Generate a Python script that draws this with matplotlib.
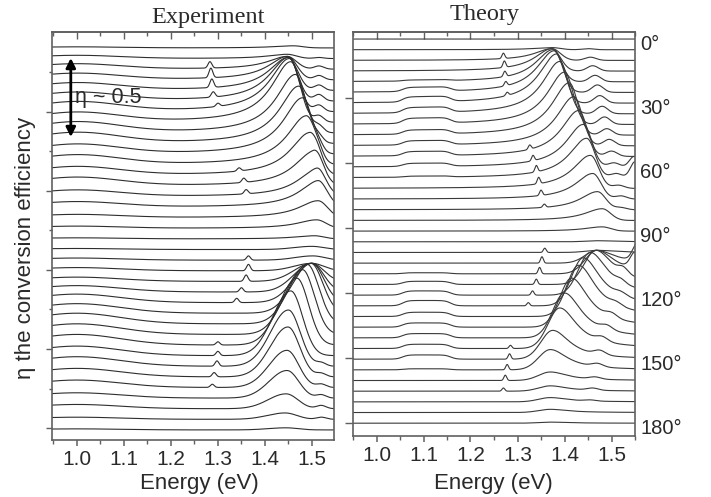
import numpy as np
import matplotlib
matplotlib.use('Agg')
import matplotlib.pyplot as plt
from matplotlib.ticker import MultipleLocator, FixedLocator, NullFormatter

# ---------------- data ----------------
angles = list(range(0, 181, 5))                      # 37 curves, 0..180 deg
label_angles = [0, 30, 60, 90, 120, 150, 180]
angle_labels = ['0°', '30°', '60°', '90°', '120°', '150°', '180°']
xticks = [1.0, 1.1, 1.2, 1.3, 1.4, 1.5]
group_split = 19                                     # index where the second lobe starts

# Experiment: main resonance energy (eV) and height (in curve-spacing units)
exp_peak_E = [1.460, 1.447, 1.447, 1.448, 1.449, 1.450, 1.452, 1.455, 1.465, 1.472,
              1.480, 1.488, 1.495, 1.503, 1.510, 1.513, 1.513, 1.510, 1.505,
              1.500, 1.502, 1.500, 1.500, 1.500, 1.500, 1.498, 1.490, 1.480, 1.468,
              1.455, 1.450, 1.449, 1.447, 1.447, 1.445, 1.443, 1.445]
exp_peak_h = [0.2, 0.4, 1.2, 2.2, 3.1, 4.1, 5.0, 5.7, 5.5, 5.4,
              5.3, 4.6, 4.0, 3.2, 2.5, 2.4, 1.6, 0.8, 0.3,
              0.3, 0.4, 0.7, 1.7, 2.7, 3.7, 4.7, 5.6, 6.1, 6.3,
              6.1, 5.3, 4.7, 3.5, 2.6, 1.4, 0.6, 0.2]
exp_bg = [0.1, 0.3, 0.5, 0.6, 0.7, 0.8, 0.9, 0.9, 1.0, 1.0,
          0.9, 0.9, 0.8, 0.8, 0.6, 0.5, 0.3, 0.2, 0.1,
          0.1, 0.2, 0.3, 0.4, 0.6, 0.8, 0.9, 1.0, 1.0, 1.0,
          0.9, 0.9, 0.8, 0.7, 0.5, 0.4, 0.2, 0.1]
exp_sh_E = [1.515] * 19 + [1.52] * 18
exp_sh_h = [0.0, 0.1, 0.3, 0.4, 0.5, 0.6, 0.6, 0.6, 0.6, 0.5,
            0.5, 0.4, 0.3, 0.3, 0.2, 0.1, 0.0, 0.0, 0.0,
            0.0, 0.0, 0.0, 0.0, 0.0, 0.0, 0.0, 0.0, 0.0, 0.0,
            0.0, 0.3, 0.3, 0.3, 0.3, 0.3, 0.2, 0.0]
exp_line_idx = [2, 3, 4, 5, 6, 12, 13, 14, 20, 21, 22, 23, 24, 28, 29, 30, 31, 32]
exp_line_E = [1.283, 1.285, 1.287, 1.290, 1.300, 1.345, 1.355, 1.360, 1.365, 1.365,
              1.360, 1.350, 1.340, 1.300, 1.300, 1.298, 1.292, 1.288]
exp_line_h = [0.6, 0.9, 0.8, 0.5, 0.3, 0.3, 0.4, 0.4, 0.4, 0.6,
              0.6, 0.4, 0.4, 0.3, 0.4, 0.5, 0.4, 0.3]

# Theory
th_peak_E = [1.373, 1.373, 1.373, 1.373, 1.375, 1.378, 1.383, 1.390, 1.400, 1.410,
             1.420, 1.430, 1.440, 1.447, 1.455, 1.460, 1.470, 1.480, 1.480,
             1.470, 1.470, 1.469, 1.469, 1.467, 1.455, 1.440, 1.430, 1.415, 1.400,
             1.390, 1.375, 1.370, 1.370, 1.370, 1.370, 1.370, 1.370]
th_peak_h = [0.0, 0.2, 1.1, 2.1, 3.0, 3.9, 4.6, 4.9, 4.9, 4.9,
             4.6, 4.3, 4.0, 3.7, 3.1, 2.4, 1.7, 1.1, 0.4,
             0.1, 0.2, 1.2, 2.2, 3.2, 4.0, 4.5, 4.8, 4.6, 4.2,
             3.8, 2.7, 1.9, 0.8, 0.5, 0.4, 0.3, 0.1]
th_bg = [0.0, 0.0, 0.0, 0.0, 0.1, 0.4, 0.5, 0.5, 0.5, 0.4,
         0.4, 0.4, 0.3, 0.1, 0.0, 0.0, 0.0, 0.0, 0.0,
         0.0, 0.0, 0.0, 0.1, 0.3, 0.4, 0.5, 0.4, 0.4, 0.4,
         0.4, 0.4, 0.1, 0.0, 0.0, 0.0, 0.0, 0.0]
th_sh_E = [1.450, 1.450, 1.455, 1.460, 1.465, 1.470, 1.475, 1.480, 1.485, 1.490,
           1.495, 1.500, 1.505, 1.510, 1.515, 1.520, 1.520, 1.520, 1.520,
           1.520, 1.520, 1.520, 1.520, 1.520, 1.520, 1.520, 1.510, 1.500, 1.490,
           1.480, 1.475, 1.470, 1.465, 1.460, 1.455, 1.455, 1.455]
th_sh_h = [0.0, 0.1, 0.3, 0.5, 0.6, 0.7, 0.7, 0.7, 0.7, 0.6,
           0.6, 0.5, 0.4, 0.4, 0.3, 0.3, 0.2, 0.0, 0.0,
           0.0, 0.0, 0.0, 0.0, 0.0, 0.0, 0.3, 0.3, 0.4, 0.4,
           0.4, 0.4, 0.3, 0.2, 0.2, 0.1, 0.0, 0.0]
th_edge_idx = [12, 13, 21, 22, 23, 24]
th_edge_E = [1.548, 1.550, 1.555, 1.550, 1.525, 1.520]
th_edge_h = [1.0, 1.5, 1.6, 1.5, 0.5, 0.3]
th_line_idx = [2, 3, 4, 5, 6, 11, 12, 13, 14, 15, 16,
               20, 21, 22, 23, 24, 25, 29, 30, 31, 32, 33]
th_line_E = [1.270, 1.272, 1.273, 1.275, 1.278, 1.326, 1.333, 1.340, 1.345, 1.350, 1.357,
             1.358, 1.352, 1.347, 1.340, 1.332, 1.323, 1.285, 1.283, 1.278, 1.274, 1.270]
th_line_h = [0.5, 0.6, 0.5, 0.4, 0.3, 0.4, 0.5, 0.6, 0.6, 0.5, 0.3,
             0.4, 0.6, 0.6, 0.5, 0.4, 0.3, 0.3, 0.5, 0.5, 0.5, 0.3]

# line-shape widths (eV): (left, right) for first and second lobe
exp_w_top = (0.050, 0.020)
exp_w_bot = (0.038, 0.025)
th_w_top = (0.045, 0.018)
th_w_bot = (0.025, 0.045)


# ---------------- helpers ----------------
def lor(x, E, g):
    return 1.0 / (1.0 + ((x - E) / g) ** 2)


def gau(x, E, s):
    return np.exp(-0.5 * ((x - E) / s) ** 2)


x = np.linspace(0.93, 1.57, 1200)


def exp_curve(i):
    E, h = exp_peak_E[i], exp_peak_h[i]
    if i < group_split:
        wl, wr = exp_w_top
        pk = np.where(x < E, lor(x, E, wl), gau(x, E, wr))
    else:
        wl, wr = exp_w_bot
        pk = np.where(x < E, gau(x, E, wl), gau(x, E, wr))
    y = h * pk
    y += exp_bg[i] * np.exp(-((x - 1.0) / 0.13) ** 2)
    y += exp_sh_h[i] * gau(x, exp_sh_E[i], 0.010)
    for k, idx in enumerate(exp_line_idx):
        if idx == i:
            y += exp_line_h[k] * gau(x, exp_line_E[k], 0.004)
    return y


def sig(z):
    return 1.0 / (1.0 + np.exp(-z))


def th_curve(i):
    E, h = th_peak_E[i], th_peak_h[i]
    if i < group_split:
        wl, wr = th_w_top
        pk = np.where(x < E, lor(x, E, wl), gau(x, E, wr))
    else:
        wl, wr = th_w_bot
        pk = np.where(x < E, gau(x, E, wl), lor(x, E, wr))
    y = h * pk
    y += th_bg[i] * sig((x - 1.055) / 0.006) * sig((1.158 - x) / 0.006)
    y += th_sh_h[i] * gau(x, th_sh_E[i], 0.012)
    for k, idx in enumerate(th_edge_idx):
        if idx == i:
            y += th_edge_h[k] * gau(x, th_edge_E[k], 0.010)
    for k, idx in enumerate(th_line_idx):
        if idx == i:
            y += th_line_h[k] * gau(x, th_line_E[k], 0.003)
    return y


# ---------------- figure ----------------
W, H = 711, 497
fig = plt.figure(figsize=(W / 100, H / 100), dpi=100)

axL = fig.add_axes([52 / W, 1 - 440 / H, (334 - 52) / W, (440 - 32) / H])
axR = fig.add_axes([353 / W, 1 - 436 / H, (635 - 353) / W, (436 - 32) / H])

line_col = '#2e2e2e'
spine_col = '#606060'
text_col = '#2a2a2a'

for i in range(len(angles)):
    axL.plot(x, -i + exp_curve(i), color=line_col, lw=0.8)
    axR.plot(x, -i + th_curve(i), color='#3a3a3a', lw=0.8)

axL.set_xlim(0.947, 1.547)
axL.set_ylim(-36.95, 1.5)
axR.set_xlim(0.950, 1.550)
axR.set_ylim(-37.2, 0.66)

sans = ['Liberation Sans', 'DejaVu Sans']
for ax in (axL, axR):
    for s in ax.spines.values():
        s.set_color(spine_col)
        s.set_linewidth(1.2)
    ax.set_xticks(xticks)
    ax.set_xticklabels(['%.1f' % t for t in xticks], fontsize=15, family=sans, color=text_col)
    ax.xaxis.set_minor_locator(MultipleLocator(0.05))
    ax.tick_params(axis='x', which='major', direction='out', length=4, width=1.1,
                   color=spine_col, pad=3)
    ax.tick_params(axis='x', which='minor', direction='out', length=3, width=1.0,
                   color=spine_col)
    top = ax.secondary_xaxis('top')
    top.set_xticks(xticks)
    top.xaxis.set_minor_locator(MultipleLocator(0.05))
    top.xaxis.set_major_formatter(NullFormatter())
    top.tick_params(axis='x', which='major', direction='in', length=5, width=1.0, color=spine_col)
    top.tick_params(axis='x', which='minor', direction='in', length=3, width=1.0, color=spine_col)
    top.spines['top'].set_color(spine_col)
    top.spines['top'].set_linewidth(1.2)
    ax.yaxis.set_major_formatter(NullFormatter())
    ax.tick_params(axis='y', which='both', direction='out', color=spine_col, right=False)

axL.yaxis.set_major_locator(FixedLocator([-6.04 - 7.45 * k for k in range(5)]))
axL.yaxis.set_minor_locator(FixedLocator([-2.3 - 7.45 * k for k in range(5)]))
axL.tick_params(axis='y', which='major', length=4, width=1.0)
axL.tick_params(axis='y', which='minor', length=2.5, width=1.0)
axR.yaxis.set_major_locator(FixedLocator([-5.55 - 6.09 * k for k in range(6)]))
axR.yaxis.set_minor_locator(FixedLocator([]))
axR.tick_params(axis='y', which='major', length=6, width=1.0)

# angle labels on the right of the theory panel
for a, lab in zip(label_angles, angle_labels):
    idx = angles.index(a)
    axR.text(1.018, -idx - 0.5, lab, transform=axR.get_yaxis_transform(),
             ha='left', va='center', fontsize=14.5, family=sans, color=text_col)

# eta scale arrow
axL.annotate('', xy=(0.987, -0.95), xytext=(0.987, -8.4),
             arrowprops=dict(arrowstyle='<|-|>', color='black', lw=2.0,
                             mutation_scale=14, shrinkA=0, shrinkB=0))
axL.text(0.996, -5.19, 'η ~ 0.5', ha='left', va='baseline', fontsize=15.5,
         family=sans, color=text_col)

# titles and axis labels
serif = ['Liberation Serif', 'DejaVu Serif']
fig.text(208 / W, 1 - 23 / H, 'Experiment', ha='center', va='baseline',
         fontsize=17.5, family=serif, color=text_col)
fig.text(485 / W, 1 - 20 / H, 'Theory', ha='center', va='baseline',
         fontsize=17.5, family=serif, color=text_col)
fig.text(199 / W, 1 - 484 / H, 'Energy (eV)', ha='center', va='center',
         fontsize=16, family=sans, color=text_col)
fig.text(493 / W, 1 - 484 / H, 'Energy (eV)', ha='center', va='center',
         fontsize=16, family=sans, color=text_col)
fig.text(26 / W, 1 - 248 / H, 'η the conversion efficiency', ha='center', va='center',
         rotation=90, fontsize=16, family=sans, color=text_col)

fig.savefig('out.png', dpi=100)
